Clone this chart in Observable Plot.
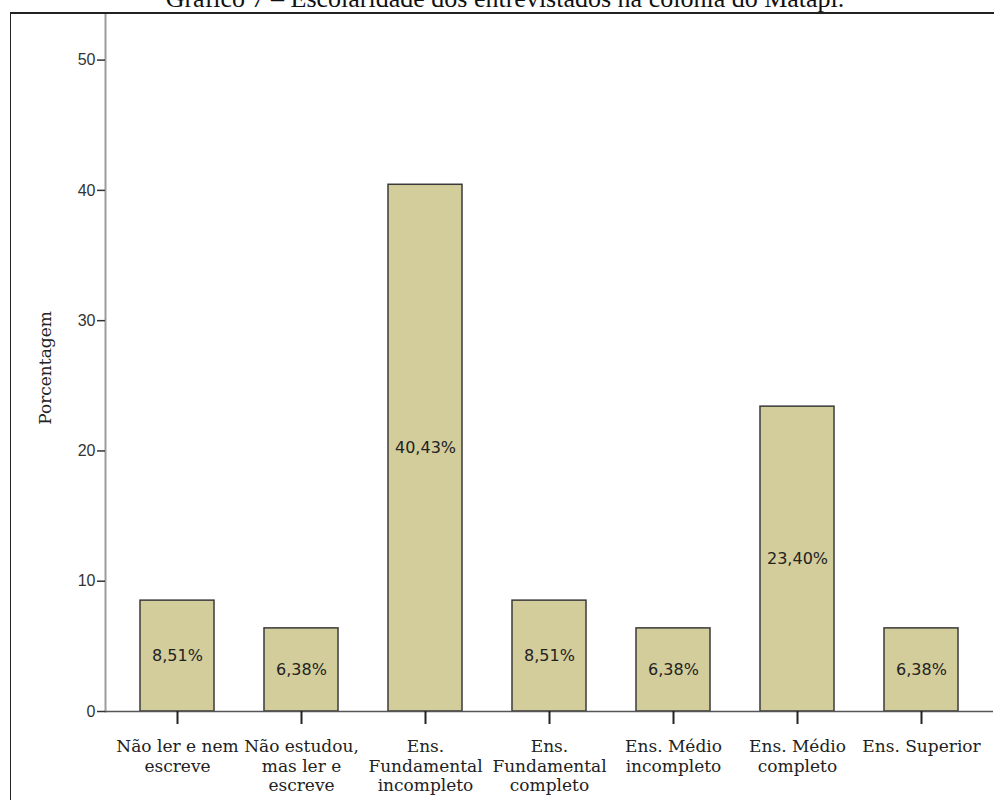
<!DOCTYPE html>
<html>
<head>
<meta charset="utf-8">
<script src="https://cdn.jsdelivr.net/npm/d3@7"></script>
<script src="https://cdn.jsdelivr.net/npm/@observablehq/plot@0.6"></script>
<style>
  html, body { margin: 0; padding: 0; background: #fff; }
  #title { position: relative; height: 12px; overflow: hidden; width: 994px; }
  #title div { position: absolute; left: 8px; width: 994px; top: -14px; text-align: center; white-space: nowrap;
    font-family: "Liberation Serif", "Times New Roman", serif; font-size: 26px; line-height: 26px; color: #111; }
  #frame { margin-left: 10px; border-top: 2px solid #222; border-left: 1px solid #222; width: 983px; height: 786px; overflow: hidden; }
  #frame svg { display: block; }
</style>
</head>
<body>
<div id="title"><div>Gráfico 7 – Escolaridade dos entrevistados na colônia do Matapi.</div></div>
<div id="frame"></div>
<script>
const categories = ["Não ler e nem escreve", "Não estudou, mas ler e escreve", "Ens. Fundamental incompleto", "Ens. Fundamental completo", "Ens. Médio incompleto", "Ens. Médio completo", "Ens. Superior"];
const tickLabels = ["Não ler e nem\nescreve", "Não estudou,\nmas ler e\nescreve", "Ens.\nFundamental\nincompleto", "Ens.\nFundamental\ncompleto", "Ens. Médio\nincompleto", "Ens. Médio\ncompleto", "Ens. Superior"];
const values = [8.51, 6.38, 40.43, 8.51, 6.38, 23.40, 6.38];
const yTicks = [0, 10, 20, 30, 40, 50];

const data = categories.map((c, i) => ({category: c, value: values[i], label: values[i].toFixed(2).replace(".", ",") + "%"}));
const labelOf = new Map(categories.map((c, i) => [c, tickLabels[i]]));

const chart = Plot.plot({
  width: 983,
  height: 786,
  marginLeft: 94,
  marginRight: 1,
  marginTop: 0,
  marginBottom: 89,
  style: {background: "#fff", overflow: "visible"},
  x: {domain: categories, range: [103, 974], paddingInner: 0.4, paddingOuter: 0.2, align: 0.5},
  y: {domain: [0, 53.5]},
  marks: [
    Plot.barY(data, {x: "category", y: "value", fill: "#d3cd9b", stroke: "#3a3a3a", strokeWidth: 1.5}),
    Plot.text(data, {x: "category", y: d => d.value / 2, text: "label", fontFamily: "DejaVu Sans", fontSize: 16, fill: "#222"}),
    Plot.frame({anchor: "left", stroke: "#9c9c9c", strokeWidth: 2}),
    Plot.ruleY([0], {stroke: "#555", strokeWidth: 1.5}),
    Plot.axisY({ticks: yTicks, tickSize: 8, tickPadding: 2, fontFamily: "Liberation Sans, Arial, sans-serif", fontSize: 16, color: "#333", strokeWidth: 1.5, label: null}),
    Plot.axisX({tickSize: 13, tickPadding: 14, tickFormat: d => labelOf.get(d), fontFamily: "DejaVu Serif", fontSize: 17, color: "#222", strokeWidth: 2, label: null, lineHeight: 1.15}),
    Plot.text(["Porcentagem"], {frameAnchor: "left", textAnchor: "middle", dx: -60, dy: 5, rotate: -90, fontFamily: "DejaVu Serif", fontSize: 17, fill: "#222"})
  ]
});
document.getElementById("frame").appendChild(chart);
</script>
</body>
</html>
